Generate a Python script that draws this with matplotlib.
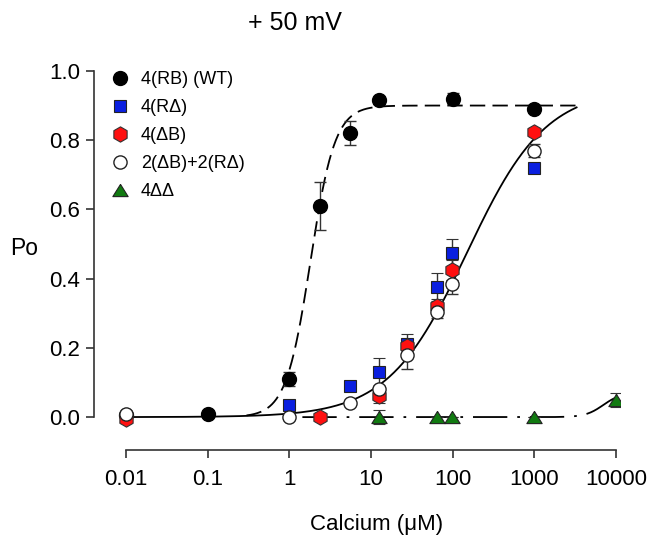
import matplotlib.pyplot as plt
import numpy as np

plt.rcParams['font.family'] = ['Liberation Sans', 'DejaVu Sans']

# calcium (uM), Po, error
wt_x = [0.01, 0.1, 1.0, 2.4, 5.5, 12.5, 100, 1000]
wt_y = [0.005, 0.009, 0.11, 0.61, 0.82, 0.915, 0.92, 0.89]
wt_e = [0.0, 0.0, 0.02, 0.07, 0.035, 0.01, 0.015, 0.01]

rd_x = [1.0, 5.5, 12.5, 27.5, 64, 98, 1000]
rd_y = [0.035, 0.09, 0.13, 0.21, 0.375, 0.475, 0.72]
rd_e = [0.0, 0.0, 0.04, 0.03, 0.04, 0.04, 0.01]

db_x = [0.01, 2.4, 12.5, 27.5, 64, 98, 1000]
db_y = [-0.005, 0.0, 0.06, 0.205, 0.32, 0.425, 0.825]
db_e = [0.0, 0.0, 0.02, 0.02, 0.02, 0.03, 0.01]

mix_x = [0.01, 1.0, 5.5, 12.5, 27.5, 64, 98, 1000]
mix_y = [0.01, 0.0, 0.04, 0.08, 0.18, 0.305, 0.385, 0.77]
mix_e = [0.0, 0.0, 0.0, 0.01, 0.04, 0.02, 0.03, 0.02]

dd_x = [12.5, 64, 98, 1000, 10000]
dd_y = [0.0, 0.0, 0.0, 0.0, 0.05]
dd_e = [0.02, 0.0, 0.0, 0.0, 0.02]

# Hill fits: max, EC50, n, x-range
wt_fit = [0.9, 1.82, 2.9, 0.3, 3300]
mut_fit = [0.95, 150, 0.9, 0.01, 3300]
dd_fit = [0.07, 7000, 4.0, 1.45, 10000]


def hill(p):
    x = np.logspace(np.log10(p[3]), np.log10(p[4]), 300)
    return x, p[0] * x**p[2] / (x**p[2] + p[1]**p[2])


fig = plt.figure(figsize=(6.53, 5.36), dpi=100)
ax = fig.add_axes([94/653, 86/536, 526/653, 386/536])

for p, ls in [(wt_fit, (0, (8.5, 4))), (mut_fit, '-'), (dd_fit, (0, (19, 5.5, 1.5, 5.5)))]:
    fx, fy = hill(p)
    ax.plot(fx, fy, color='black', lw=1.3, linestyle=ls, zorder=2)

tri = [(0, 0.8), (-1, -0.8), (1, -0.8), (0, 0.8)]
eb = dict(ecolor='#333333', elinewidth=1.0, capsize=4.3, capthick=1.0, linestyle='none', zorder=3)
cs = []
cs.append(ax.errorbar(wt_x, wt_y, yerr=wt_e, fmt='o', ms=10, mfc='black', mec='black', label='4(RB) (WT)', **eb))
cs.append(ax.errorbar(rd_x, rd_y, yerr=rd_e, fmt='s', ms=8, mfc='#0a1fe0', mec='#222222', mew=0.8, label='4(R\u0394)', **eb))
cs.append(ax.errorbar(db_x, db_y, yerr=db_e, fmt='h', ms=11, mfc='#ff1010', mec='#333333', mew=0.8, label='4(\u0394B)', **eb))
cs.append(ax.errorbar(mix_x, mix_y, yerr=mix_e, fmt='o', ms=9.5, mfc='white', mec='#222222', mew=1.0, label='2(\u0394B)+2(R\u0394)', **eb))
cs.append(ax.errorbar(dd_x, dd_y, yerr=dd_e, marker=tri, ms=11, mfc='#117a11', mec='#222222', mew=0.8, label='4\u0394\u0394', **eb))

ax.set_xscale('log')
ax.set_xlim(10**-2.39, 10**4.05)
ax.set_ylim(-0.095, 1.02)
for s in ['top', 'right']:
    ax.spines[s].set_visible(False)
ax.spines['left'].set_bounds(0, 1)
ax.spines['bottom'].set_bounds(0.01, 10000)
for s in ['left', 'bottom']:
    ax.spines[s].set_linewidth(1.2)
    ax.spines[s].set_color('#333333')

xt = [0.01, 0.1, 1, 10, 100, 1000, 10000]
ax.set_xticks(xt)
ax.set_xticklabels(['0.01', '0.1', '1', '10', '100', '1000', '10000'])
ax.minorticks_off()
ax.set_yticks([0, 0.2, 0.4, 0.6, 0.8, 1.0])
ax.set_yticklabels(['0.0', '0.2', '0.4', '0.6', '0.8', '1.0'])
ax.tick_params(direction='out', length=6, width=1.2, color='#333333', labelsize=16)
ax.tick_params(axis='x', pad=8)
ax.tick_params(axis='y', pad=4)

ax.legend([c[0] for c in cs], [c.get_label() for c in cs], loc='upper left',
          bbox_to_anchor=(0.015, 1.0), frameon=False, fontsize=13,
          labelspacing=0.61, handletextpad=0.55, handlelength=1.2, borderaxespad=0.0)

fig.text(295/653, 1 - 30/536, '+ 50 mV', ha='center', va='baseline', fontsize=18)
fig.text(24/653, 1 - 255/536, 'Po', ha='center', va='baseline', fontsize=16.5)
fig.text(377/653, 1 - 530/536, 'Calcium (\u03bcM)', ha='center', va='baseline', fontsize=16)

fig.savefig('out.png', dpi=100)
